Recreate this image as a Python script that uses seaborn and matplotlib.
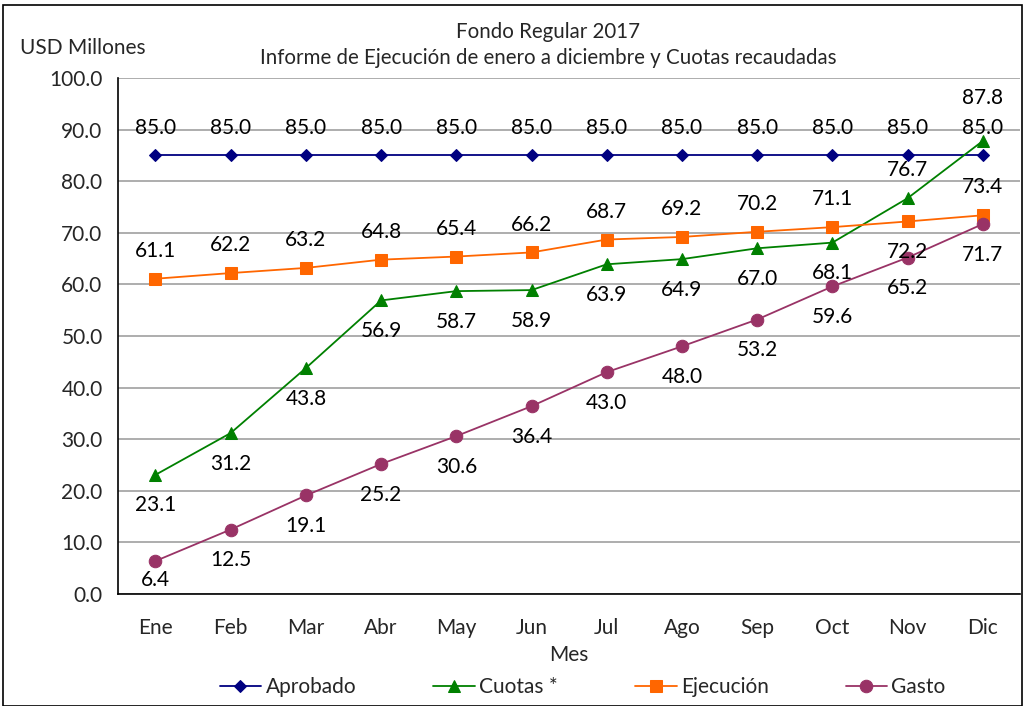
import numpy as np
import pandas as pd
import matplotlib
matplotlib.use("Agg")
import matplotlib.pyplot as plt
import seaborn as sns
from matplotlib.patches import Rectangle

# Datos del grafico
meses = ["Ene", "Feb", "Mar", "Abr", "May", "Jun", "Jul", "Ago", "Sep", "Oct", "Nov", "Dic"]
aprobado = [85.0, 85.0, 85.0, 85.0, 85.0, 85.0, 85.0, 85.0, 85.0, 85.0, 85.0, 85.0]
cuotas = [23.1, 31.2, 43.8, 56.9, 58.7, 58.9, 63.9, 64.9, 67.0, 68.1, 76.7, 87.8]
ejecucion = [61.1, 62.2, 63.2, 64.8, 65.4, 66.2, 68.7, 69.2, 70.2, 71.1, 72.2, 73.4]
gasto = [6.4, 12.5, 19.1, 25.2, 30.6, 36.4, 43.0, 48.0, 53.2, 59.6, 65.2, 71.7]

sns.set_style("white")
plt.rcParams['font.family'] = ['Lato', 'DejaVu Sans']

fig = plt.figure(figsize=(10.25, 7.06), dpi=100)
ax = fig.add_axes([0.115, 0.1586, 0.8805, 0.7309])

x = np.arange(len(meses))

# (nombre, valores, color, marcador, tamano, posicion de etiquetas)
series = [
    ("Aprobado", aprobado, "#000080", "D", 6, ["a"] * 12),
    ("Cuotas *", cuotas, "#008000", "^", 9, ["b"] * 10 + ["a", "a"]),
    ("Ejecución", ejecucion, "#FF6600", "s", 8, ["a"] * 10 + ["b", "a"]),
    ("Gasto", gasto, "#993366", "o", 9, ["b"] * 12),
]
# ajustes puntuales de la posicion de etiquetas (como en el original)
ajustes = {("Cuotas *", 11): 31, ("Gasto", 0): -14}

for nombre, vals, color, marker, ms, pos in series:
    sns.lineplot(x=x, y=vals, ax=ax, color=color, marker=marker, markersize=ms,
                 markeredgecolor=color, linewidth=1.3, label=nombre)
    for i, (xi, v, p) in enumerate(zip(x, vals, pos)):
        dy = 20 if p == "a" else -22
        dy = ajustes.get((nombre, i), dy)
        ax.annotate(f"{v:.1f}", (xi, v), xytext=(0, dy), textcoords="offset points",
                    ha="center", va="center", fontsize=15, color="black")

ax.set_xlim(-0.5, 11.5)
ax.set_ylim(0, 100)
ax.set_yticks(np.arange(0, 101, 10))
ax.set_yticklabels([f"{v:.1f}" for v in np.arange(0, 101, 10)], fontsize=15)
ax.set_xticks(x)
ax.set_xticklabels(meses, fontsize=15)
ax.set_xticks(np.arange(-0.5, 12, 1), minor=True)
ax.tick_params(axis="x", which="major", length=0, pad=17)
ax.tick_params(axis="x", which="minor", length=7, width=1, color="black", direction="out")
ax.tick_params(axis="y", length=7, width=1, color="black", direction="out", pad=4)
ax.yaxis.grid(True, color="#A0A0A0", linewidth=1.2)
ax.set_axisbelow(True)
for s in ["top", "right"]:
    ax.spines[s].set_visible(False)
for s in ["left", "bottom"]:
    ax.spines[s].set_color("black")
    ax.spines[s].set_linewidth(1.2)

ax.set_xlabel("Mes", fontsize=15, labelpad=5)
ax.set_ylabel("")

fig.text(0.535, 0.955, "Fondo Regular 2017", ha="center", va="center", fontsize=14.8)
fig.text(0.535, 0.918, "Informe de Ejecución de enero a diciembre y Cuotas recaudadas",
         ha="center", va="center", fontsize=14.8)
fig.text(0.02, 0.932, "USD Millones", ha="left", va="center", fontsize=15)

ax.legend(loc="upper center", bbox_to_anchor=(0.515, -0.125), ncol=4, frameon=False,
          fontsize=15, handlelength=2.0, columnspacing=3.7, handletextpad=0.2)

fig.patches.append(Rectangle((0.003, 0.0), 0.994, 0.993, transform=fig.transFigure,
                             fill=False, edgecolor="black", linewidth=1.2))

fig.savefig("out.png", dpi=100)
